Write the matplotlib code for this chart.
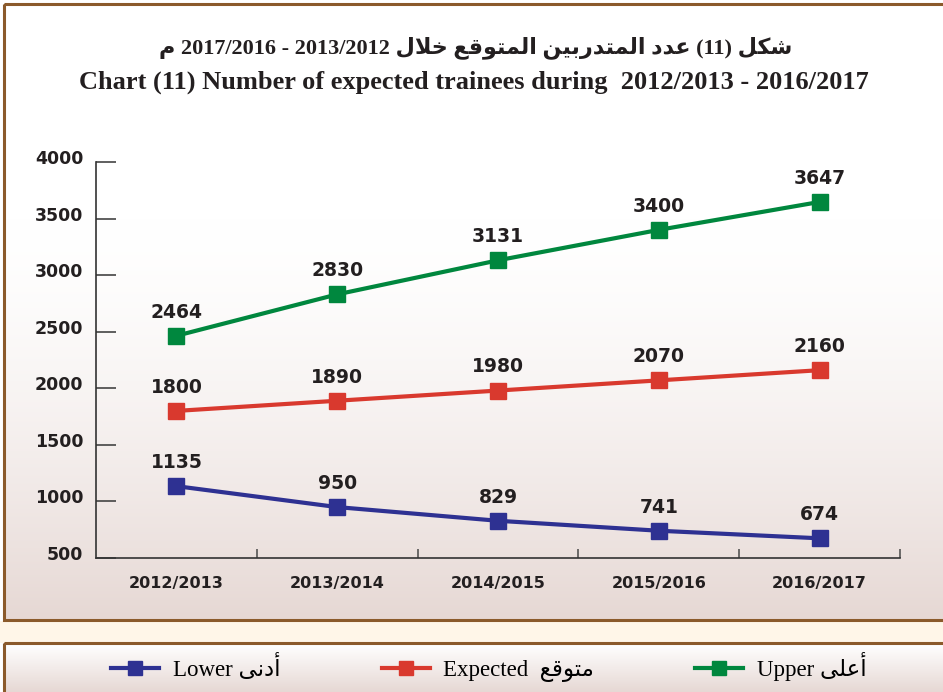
import numpy as np
import matplotlib
matplotlib.use('Agg')
import matplotlib.pyplot as plt
from matplotlib.patches import Rectangle
from matplotlib.transforms import ScaledTranslation

# data
years = ['2012/2013', '2013/2014', '2014/2015', '2015/2016', '2016/2017']
upper = [2464, 2830, 3131, 3400, 3647]
expected = [1800, 1890, 1980, 2070, 2160]
lower = [1135, 950, 829, 741, 674]

title_ar = 'شكل (11) عدد المتدربين المتوقع خلال 2013/2012 - 2017/2016 م'
title_en = 'Chart (11) Number of expected trainees during  2012/2013 - 2016/2017'
names_en = ['Lower', 'Expected ', 'Upper']
names_ar = ['أدنى', 'متوقع', 'أعلى']

c_upper = '#00873E'
c_exp = '#D9392E'
c_low = '#2E3192'
txt = '#231F20'

# matplotlib has no arabic shaping, so do the contextual forms by hand
FORMS = {
    'ا': ('\uFE8D', '\uFE8E', None, None),
    'أ': ('\uFE83', '\uFE84', None, None),
    'ب': ('\uFE8F', '\uFE90', '\uFE91', '\uFE92'),
    'ت': ('\uFE95', '\uFE96', '\uFE97', '\uFE98'),
    'خ': ('\uFEA5', '\uFEA6', '\uFEA7', '\uFEA8'),
    'د': ('\uFEA9', '\uFEAA', None, None),
    'ر': ('\uFEAD', '\uFEAE', None, None),
    'ش': ('\uFEB5', '\uFEB6', '\uFEB7', '\uFEB8'),
    'ع': ('\uFEC9', '\uFECA', '\uFECB', '\uFECC'),
    'ق': ('\uFED5', '\uFED6', '\uFED7', '\uFED8'),
    'ك': ('\uFED9', '\uFEDA', '\uFEDB', '\uFEDC'),
    'ل': ('\uFEDD', '\uFEDE', '\uFEDF', '\uFEE0'),
    'م': ('\uFEE1', '\uFEE2', '\uFEE3', '\uFEE4'),
    'ن': ('\uFEE5', '\uFEE6', '\uFEE7', '\uFEE8'),
    'و': ('\uFEED', '\uFEEE', None, None),
    'ى': ('\uFEEF', '\uFEF0', None, None),
    'ي': ('\uFEF1', '\uFEF2', '\uFEF3', '\uFEF4'),
}


def shape(word):
    if not any(ch in FORMS for ch in word):
        return word
    out = []
    prev = False
    i = 0
    while i < len(word):
        ch = word[i]
        if ch == 'ل' and i + 1 < len(word) and word[i + 1] == 'ا':
            out.append('\uFEFC' if prev else '\uFEFB')
            prev = False
            i += 2
            continue
        iso, fin, ini, med = FORMS[ch]
        nxt = ini is not None and i + 1 < len(word) and word[i + 1] in FORMS
        if prev and nxt:
            out.append(med)
        elif prev:
            out.append(fin)
        elif nxt:
            out.append(ini)
        else:
            out.append(iso)
        prev = nxt
        i += 1
    return ''.join(reversed(out))


def rtl(text):
    return ' '.join(shape(w) for w in reversed(text.split(' ')))


W, H = 943, 692
fig = plt.figure(figsize=(W / 100, H / 100), dpi=100, facecolor='white')

# background panels
bg = fig.add_axes([0, 0, 1, 1], zorder=-10)
bg.add_patch(Rectangle((0, 621), W, 22, facecolor='#FFF6E8', edgecolor='none'))

t = np.linspace(0, 1, 300)
ramp = np.clip((t - 0.35) / 0.65, 0, 1) ** 1.5
top_c = np.array([1.0, 1.0, 1.0])
bot_c = np.array([230, 216, 212]) / 255
grad = top_c + (bot_c - top_c) * ramp[:, None]
bg.imshow(grad[:, None, :], extent=[4, W + 5, 620, 4], aspect='auto')
t2 = np.linspace(0, 1, 100)[:, None]
grad2 = top_c + (bot_c - top_c) * t2
bg.imshow(grad2[:, None, :], extent=[4, W + 5, H, 644], aspect='auto')
bg.set_xlim(0, W)
bg.set_ylim(H, 0)
bg.axis('off')
bg.add_patch(Rectangle((4, 4), W + 10, 616, fill=False, edgecolor='#8B5A2B', linewidth=2.2))
bg.add_patch(Rectangle((4, 643), W + 10, 60, fill=False, edgecolor='#8B5A2B', linewidth=2.2))

# chart
ax = fig.add_axes([96 / W, 1 - 558 / H, 804 / W, 396 / H])
ax.patch.set_alpha(0)
x = np.arange(len(years))
l_up, = ax.plot(x, upper, color=c_upper, lw=3, marker='s', ms=11.5, zorder=3)
l_ex, = ax.plot(x, expected, color=c_exp, lw=3, marker='s', ms=11.5, zorder=3)
l_lo, = ax.plot(x, lower, color=c_low, lw=3, marker='s', ms=11.5, zorder=3)

for vals in (upper, expected, lower):
    for i, v in enumerate(vals):
        ax.annotate(str(v), (i, v), xytext=(0, 13), textcoords='offset points',
                    ha='center', va='baseline', fontsize=13.5, fontweight='bold',
                    color=txt, family='DejaVu Sans')

ax.set_xlim(-0.5, 4.5)
ax.set_ylim(500, 4000)
ax.set_yticks(range(500, 4001, 500))
ax.set_xticks(x)
ax.set_xticklabels(years)
ax.set_xticks(np.arange(0.5, 4.6, 1), minor=True)
for s in ('top', 'right'):
    ax.spines[s].set_visible(False)
for s in ('left', 'bottom'):
    ax.spines[s].set_color('#333333')
    ax.spines[s].set_linewidth(1.2)
ax.tick_params(axis='y', direction='in', length=14.4, width=1.2, color='#444444',
               pad=9, labelsize=12.5, labelcolor=txt)
ax.tick_params(axis='x', which='major', length=0, pad=13, labelsize=11.5, labelcolor=txt)
ax.tick_params(axis='x', which='minor', direction='in', length=6.5, width=1.2, color='#555555')
for lab in ax.get_yticklabels() + ax.get_xticklabels():
    lab.set_fontweight('bold')
for lab in ax.get_yticklabels():
    lab.set_transform(lab.get_transform() + ScaledTranslation(0, 0.05, fig.dpi_scale_trans))

# titles
fig.text(476 / W, 1 - 48 / H, rtl(title_ar), ha='center', va='center', fontsize=16,
         fontweight='bold', family=['Liberation Serif', 'DejaVu Sans'], color=txt)
fig.text(474 / W, 1 - 82 / H, title_en, ha='center', va='center', fontsize=19,
         fontweight='bold', family='Liberation Serif', color=txt)

# legend
labels = [names_en[k] + ' ' + shape(names_ar[k]) for k in range(3)]
fig.legend([l_lo, l_ex, l_up], labels, ncol=3, loc='center',
           bbox_to_anchor=(489 / W, 1 - 667 / H), frameon=False,
           prop={'family': ['Liberation Serif', 'DejaVu Sans'], 'size': 16.5},
           handlelength=2.1, handletextpad=0.6, columnspacing=4.4, markerscale=0.9)

fig.savefig('out.png', dpi=100)
